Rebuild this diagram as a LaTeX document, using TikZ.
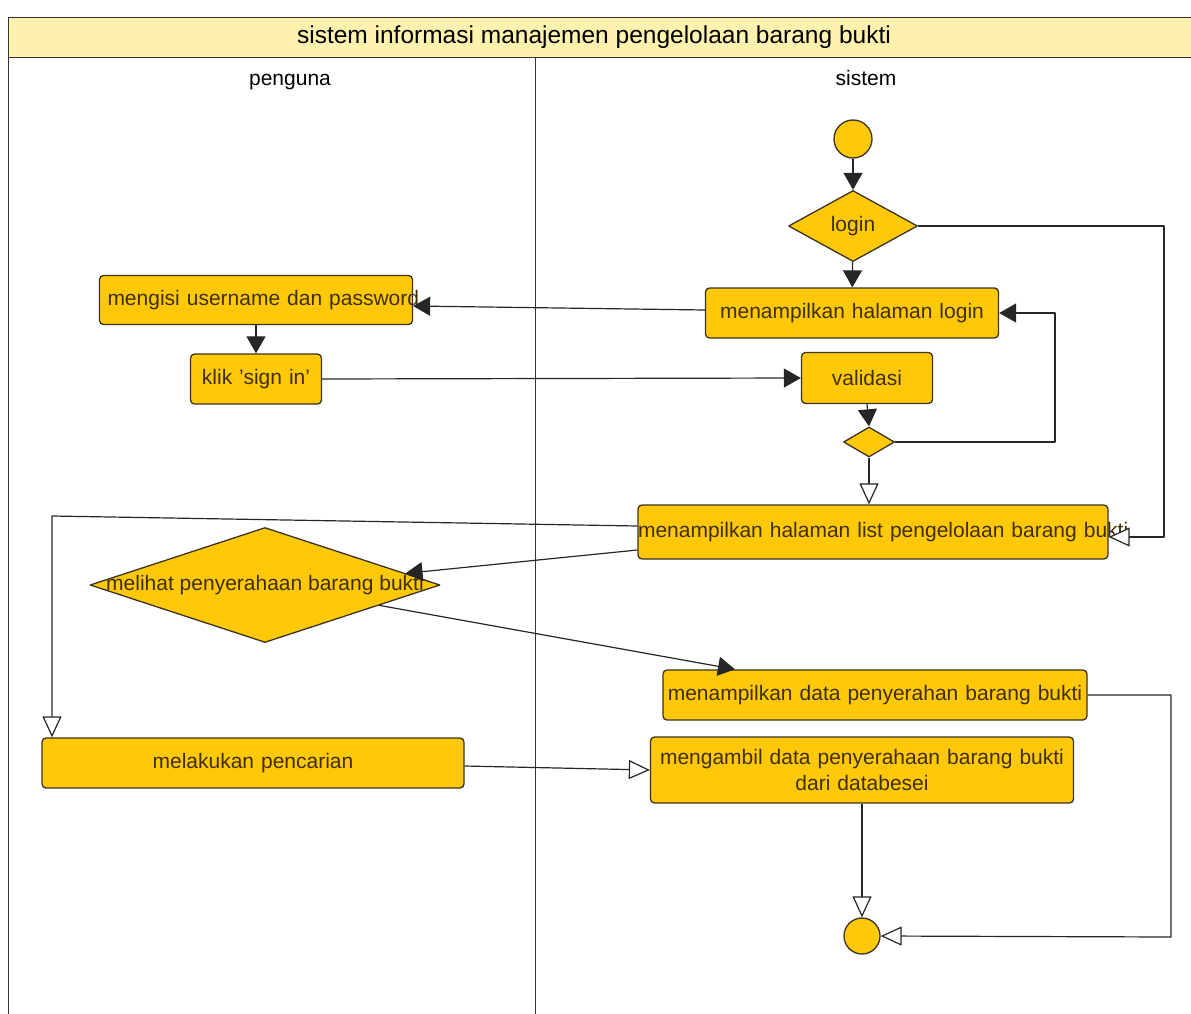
\documentclass[tikz,border=0pt]{standalone}
\usepackage{fontspec}
\setmainfont{Liberation Sans}
\usetikzlibrary{arrows.meta,shapes.geometric,calc}
\definecolor{actfill}{HTML}{FFC90A}
\definecolor{actedge}{HTML}{3A3222}
\definecolor{acttext}{HTML}{3F2F00}
\definecolor{poolhead}{HTML}{FFF1AE}

\begin{document}
\begin{tikzpicture}[x=1pt,y=-1pt,line join=round,
          act/.style={draw=actedge,fill=actfill,rounded corners=4pt,line width=1.3pt,
            text=acttext,font=\fontsize{21}{26}\selectfont,align=center,
            inner xsep=0pt,inner ysep=0pt,text width=#1,minimum height=50pt},
          dec/.style={diamond,draw=actedge,fill=actfill,line width=1.3pt,inner sep=0pt,
            text=acttext,font=\fontsize{21}{26}\selectfont},
          dot/.style={circle,draw=actedge,fill=actfill,line width=1.3pt,minimum size=38pt,inner sep=0pt},
          flow/.style={draw=black!85,line width=1.2pt,-{Triangle[length=17pt,width=19pt]}},
          hollow/.style={draw=black!85,line width=1.2pt,-{Triangle[open,length=21pt,width=19pt,fill=white]}},
          lane/.style={font=\fontsize{21}{25}\selectfont,anchor=base}]
          \path[use as bounding box] (0,0) rectangle (1191,1014);
          \clip (0,0) rectangle (1191,1014);
          \draw[fill=poolhead,draw=black!80,line width=1pt] (8,18) rectangle (1200,58);
          \draw[black!80,line width=1pt] (8,58) -- (8,1020);
          \draw[black!80,line width=1pt] (535,58) -- (535,1020);
          \node[font=\fontsize{24.5}{28}\selectfont] (pool) at (594,37) {sistem informasi manajemen pengelolaan barang bukti};
          \node[lane] (userlane) at (290,86) {penguna};
          \node[lane] (syslane) at (866,86) {sistem};

          \node[dot] (start) at (853,139) {};
          \node[dec,minimum width=129pt,minimum height=71pt] (login) at (853,226) {login};
          \node[act=293pt] (showlogin) at (852,313) {menampilkan halaman login};
          \node[act=313pt,minimum height=49pt] (fillform) at (256,300) {\mbox{\hspace{8pt}mengisi username dan password}};
          \node[act=131pt] (signin) at (256,379) {klik 'sign in'};
          \node[act=131pt,minimum height=51pt] (check) at (867,378) {validasi};
          \node[dec,minimum width=51pt,minimum height=30pt] (gate) at (869,442) {};
          \node[act=470pt,minimum height=54pt] (list) at (873,532) {\mbox{menampilkan halaman list pengelolaan barang bukti}};
          \node[dec,minimum width=350pt,minimum height=115pt,
            label={[text=acttext,font=\fontsize{21}{26}\selectfont]center:melihat penyerahaan barang bukti}] (look) at (265,585) {};
          \node[act=424pt] (showdata) at (875,695) {menampilkan data penyerahan barang bukti};
          \node[act=422pt] (search) at (253,763) {melakukan pencarian};
          \node[act=423pt,minimum height=66pt] (fetch) at (862,770) {mengambil data penyerahaan barang bukti\\dari databesei};
          \node[dot,minimum size=36pt] (finish) at (862,936) {};

          \coordinate (loginright) at (1164,537);
          \coordinate (retry) at (1055,442);
          \coordinate (leftturn) at (52,516);
          \coordinate (endright) at (1171,937);

          \draw[flow] (start) -- (login);
          \draw[flow] (login) -- (showlogin);
          \draw[hollow] (login.east) -| (loginright) -- (list.east |- loginright);
          \draw[flow] ([yshift=3pt]showlogin.west) -- ([yshift=-6pt]fillform.east);
          \draw[flow] (fillform) -- (signin);
          \draw[flow] (signin.east) -- (check.west);
          \draw[flow] (check.south) -- (gate.north);
          \draw[flow] (gate.east) -- (retry) |- (showlogin.east);
          \draw[hollow] (gate.south) -- (gate.south |- list.north);
          \draw[hollow] ([yshift=6pt]list.west) -- (leftturn) -- (leftturn |- search.north);
          \draw[flow] ([yshift=-18pt]list.west) -- ($(look.east)!0.2!(look.north)$);
          \draw[flow] ($(look.east)!0.35!(look.south)$) -- ([xshift=-140pt]showdata.north);
          \draw[hollow] ([yshift=-3pt]search.east) -- (fetch.west);
          \draw[hollow] (showdata.east) -| (endright) -- (finish.east);
          \draw[hollow] (fetch) -- (finish);
        \end{tikzpicture}
\end{document}
